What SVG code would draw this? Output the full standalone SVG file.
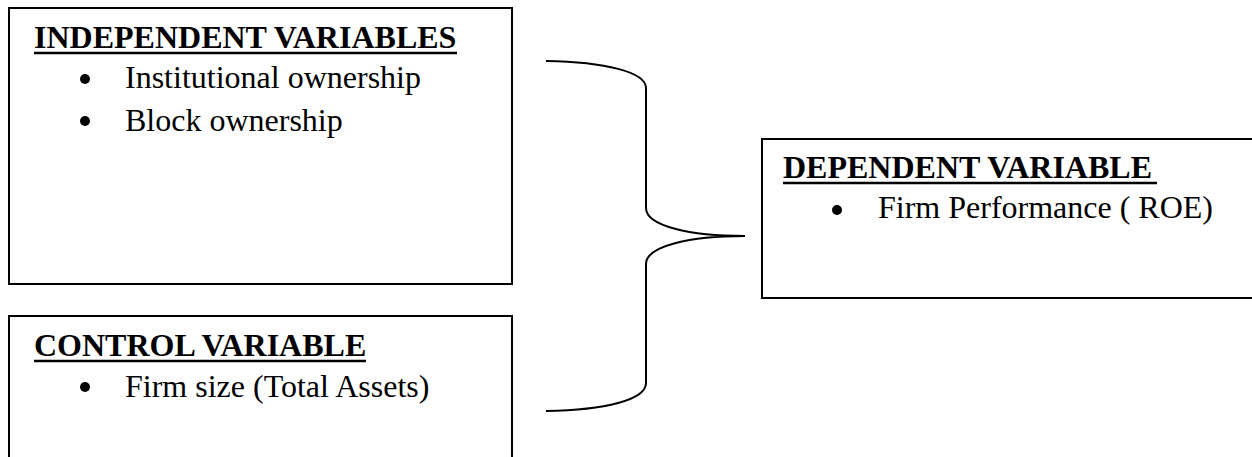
<svg xmlns="http://www.w3.org/2000/svg" width="1252" height="457" viewBox="0 0 1252 457">
<style>
.box{fill:#fff;stroke:#000;stroke-width:2}
.title{font-family:"Liberation Serif","Times New Roman",serif;font-size:32px;font-weight:bold;fill:#000}
.item{font-family:"Liberation Serif","Times New Roman",serif;font-size:32px;fill:#000}
.ul{stroke:#000;stroke-width:2.5}
.brace{fill:none;stroke:#000;stroke-width:2}
.dot{fill:#000}
</style>
<rect width="1252" height="457" fill="#fff"/>
<g id="independent">
<rect class="box" x="9" y="8" width="503" height="276"/>
<text class="title" x="34" y="48">INDEPENDENT VARIABLES</text>
<line class="ul" x1="34" y1="53" x2="457" y2="53"/>
<circle class="dot" cx="85" cy="79" r="5"/>
<text class="item" x="125" y="88">Institutional ownership</text>
<circle class="dot" cx="85" cy="121" r="5"/>
<text class="item" x="125" y="131">Block ownership</text>
</g>
<g id="control">
<rect class="box" x="9" y="316" width="503" height="160"/>
<text class="title" x="34" y="356">CONTROL VARIABLE</text>
<line class="ul" x1="34" y1="361" x2="366" y2="361"/>
<circle class="dot" cx="85" cy="387" r="5"/>
<text class="item" x="125" y="397">Firm size (Total Assets)</text>
</g>
<g id="dependent">
<rect class="box" x="762" y="139" width="500" height="159"/>
<text class="title" x="783" y="178">DEPENDENT VARIABLE</text>
<line class="ul" x1="783" y1="183" x2="1157" y2="183"/>
<circle class="dot" cx="837" cy="210" r="5"/>
<text class="item" x="878" y="218">Firm Performance ( ROE)</text>
</g>
<g id="connectors">
<path class="brace" d="M546,61 C605,62 646,72 646,88 L646,208 C646,226 690,236 745,236 C690,236 646,246 646,264 L646,383 C646,400 605,410 546,411"/>
</g>
</svg>
